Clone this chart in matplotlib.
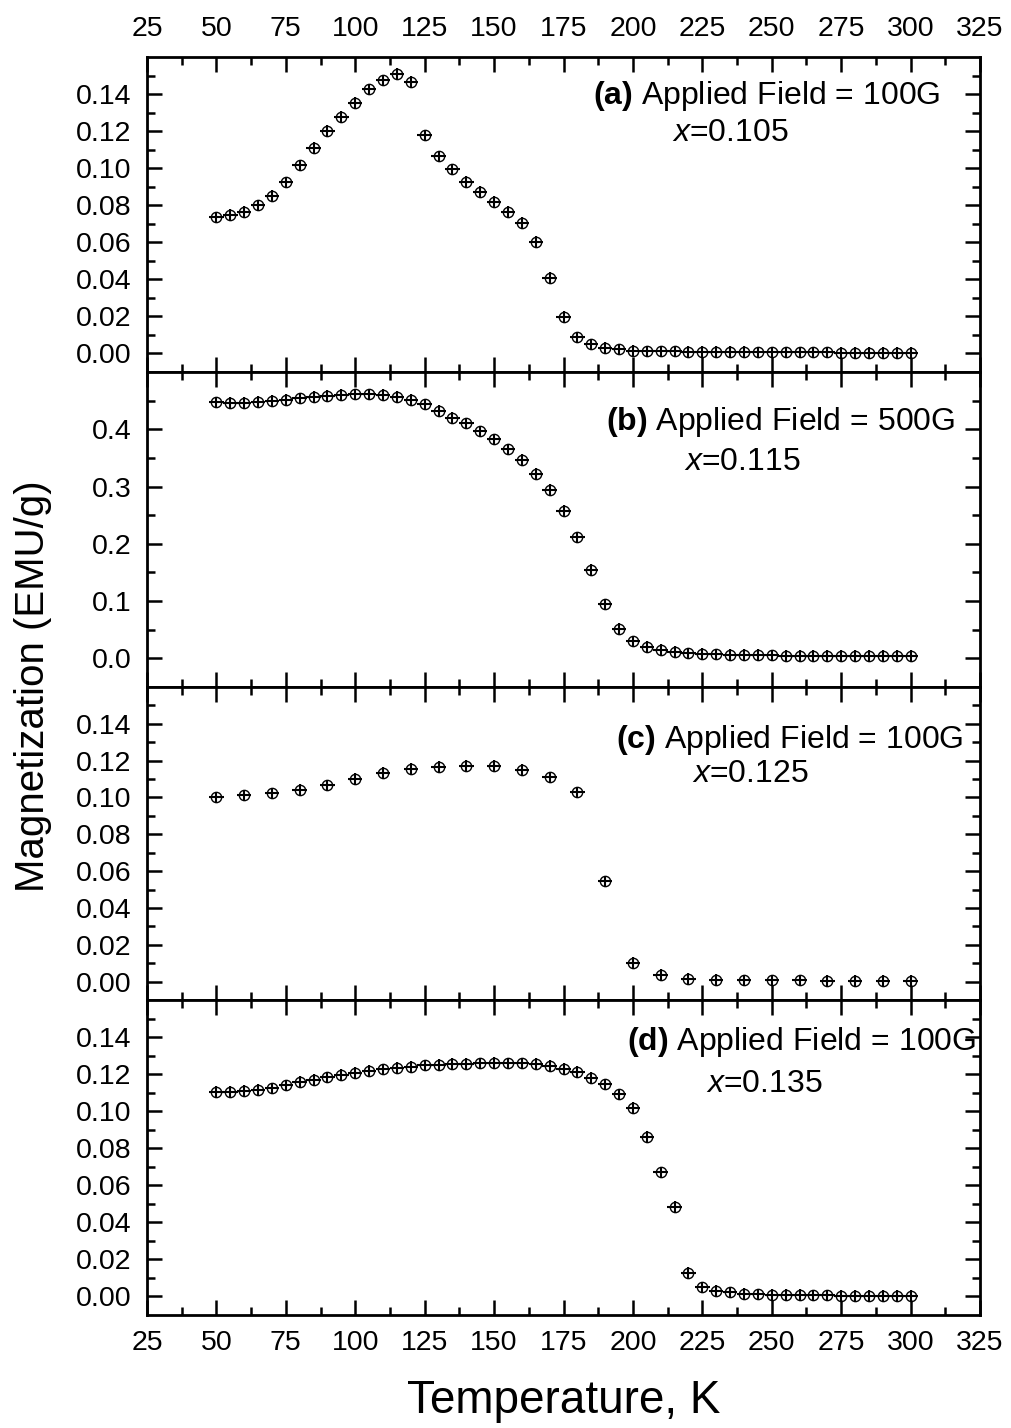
import matplotlib
matplotlib.use("Agg")
import matplotlib.pyplot as plt
from matplotlib.ticker import MultipleLocator, FixedLocator, FormatStrFormatter

plt.rcParams["font.family"] = ["Liberation Sans", "DejaVu Sans"]
plt.rcParams["mathtext.fontset"] = "custom"
plt.rcParams["mathtext.rm"] = "Liberation Sans"
plt.rcParams["mathtext.bf"] = "Liberation Sans:bold"
plt.rcParams["mathtext.it"] = "Liberation Sans:italic"

# Temperatures (K)
temp_5k = [50, 55, 60, 65, 70, 75, 80, 85, 90, 95,
           100, 105, 110, 115, 120, 125, 130, 135, 140, 145,
           150, 155, 160, 165, 170, 175, 180, 185, 190, 195,
           200, 205, 210, 215, 220, 225, 230, 235, 240, 245,
           250, 255, 260, 265, 270, 275, 280, 285, 290, 295, 300]
temp_10k = [50, 60, 70, 80, 90, 100, 110, 120, 130, 140, 150, 160, 170,
            180, 190, 200, 210, 220, 230, 240, 250, 260, 270, 280, 290, 300]

# Magnetization (EMU/g)
mag_a = [0.0734, 0.0747, 0.0766, 0.0799, 0.0851, 0.0923, 0.1016, 0.1111, 0.1201, 0.1276,
         0.1353, 0.1425, 0.1475, 0.1510, 0.1465, 0.1178, 0.1065, 0.0993, 0.0928, 0.0874,
         0.0819, 0.0765, 0.0704, 0.0603, 0.0409, 0.0199, 0.0088, 0.0050, 0.0031, 0.0023,
         0.0015, 0.0013, 0.0012, 0.0011, 0.0010, 0.0009, 0.0009, 0.0008, 0.0008, 0.0007,
         0.0007, 0.0007, 0.0006, 0.0006, 0.0006, 0.0005, 0.0005, 0.0005, 0.0005, 0.0004, 0.0004]
mag_b = [0.4468, 0.4456, 0.4456, 0.4474, 0.4491, 0.4509, 0.4538, 0.4561, 0.4585, 0.4596,
         0.4608, 0.4608, 0.4596, 0.4561, 0.4514, 0.4433, 0.4316, 0.4205, 0.4105, 0.3965,
         0.3825, 0.3649, 0.3462, 0.3222, 0.2936, 0.2573, 0.2111, 0.1544, 0.0942, 0.0515,
         0.0298, 0.0205, 0.0146, 0.0111, 0.0088, 0.0075, 0.0070, 0.0065, 0.0060, 0.0056,
         0.0053, 0.0050, 0.0048, 0.0046, 0.0045, 0.0044, 0.0043, 0.0042, 0.0041, 0.0040, 0.0040]
mag_c = [0.1002, 0.1011, 0.1023, 0.1041, 0.1067, 0.1101, 0.1133, 0.1157, 0.1166, 0.1171,
         0.1171, 0.1150, 0.1110, 0.1029, 0.0544, 0.0101, 0.0036, 0.0016, 0.0010, 0.0008,
         0.0006, 0.0006, 0.0005, 0.0005, 0.0004, 0.0004]
mag_d = [0.1106, 0.1106, 0.1109, 0.1115, 0.1124, 0.1140, 0.1158, 0.1170, 0.1183, 0.1195,
         0.1206, 0.1217, 0.1226, 0.1235, 0.1240, 0.1248, 0.1251, 0.1255, 0.1256, 0.1258,
         0.1260, 0.1258, 0.1258, 0.1255, 0.1246, 0.1229, 0.1212, 0.1181, 0.1145, 0.1092,
         0.1019, 0.0862, 0.0671, 0.0485, 0.0128, 0.0050, 0.0032, 0.0022, 0.0014, 0.0012,
         0.0010, 0.0009, 0.0008, 0.0007, 0.0006, 0.0005, 0.0005, 0.0004, 0.0004, 0.0003, 0.0003]

# Error estimates
temp_err = 2.6
mag_err = [0.003, 0.010, 0.003, 0.003]

panel_tags = ["(a)", "(b)", "(c)", "(d)"]
fields = ["100G", "500G", "100G", "100G"]
compositions = ["0.105", "0.115", "0.125", "0.135"]

x_ticks = [25, 50, 75, 100, 125, 150, 175, 200, 225, 250, 275, 300, 325]

series = [(temp_5k, mag_a), (temp_5k, mag_b), (temp_10k, mag_c), (temp_5k, mag_d)]

fig = plt.figure(figsize=(10.11, 14.28), dpi=100)
W, H = 1011.0, 1428.0
left_px, right_px = 147.0, 980.0
edges_px = [57.0, 372.0, 687.0, 1000.0, 1315.0]

# label placement in axes coordinates: (title right, title baseline, x-centre, x-baseline)
text_pos = [(0.953, 0.851, 0.700, 0.733),
            (0.970, 0.816, 0.715, 0.689),
            (0.980, 0.805, 0.724, 0.696),
            (0.995, 0.841, 0.741, 0.708)]

axes = []
for i in range(4):
    top, bot = edges_px[i], edges_px[i + 1]
    rect = [left_px / W, 1 - bot / H, (right_px - left_px) / W, (bot - top) / H]
    ax = fig.add_axes(rect, sharex=axes[0] if axes else None)
    axes.append(ax)
    T, M = series[i]
    ax.errorbar(T, M, xerr=temp_err, yerr=mag_err[i], fmt="o", ms=7.4,
                mfc="none", mec="black", mew=1.0, ecolor="black",
                elinewidth=1.5, capsize=0, zorder=3)

    ax.set_xlim(25, 325)
    ax.xaxis.set_major_locator(FixedLocator(x_ticks))
    ax.xaxis.set_minor_locator(MultipleLocator(12.5))
    if i == 1:
        ax.set_ylim(-0.05, 0.5)
        ax.yaxis.set_major_locator(FixedLocator([0.0, 0.1, 0.2, 0.3, 0.4]))
        ax.yaxis.set_minor_locator(FixedLocator([0.05, 0.15, 0.25, 0.35, 0.45]))
        ax.yaxis.set_major_formatter(FormatStrFormatter("%.1f"))
    else:
        ax.set_ylim(-0.01, 0.16)
        ax.yaxis.set_major_locator(FixedLocator([0.0, 0.02, 0.04, 0.06, 0.08, 0.10, 0.12, 0.14]))
        ax.yaxis.set_minor_locator(FixedLocator([0.01, 0.03, 0.05, 0.07, 0.09, 0.11, 0.13, 0.15]))
        ax.yaxis.set_major_formatter(FormatStrFormatter("%.2f"))

    for s in ax.spines.values():
        s.set_linewidth(2.0)
    ax.tick_params(which="both", direction="in", top=True, right=True,
                   width=1.8, labelsize=20.5, pad=11)
    ax.tick_params(which="major", length=11)
    ax.tick_params(which="minor", length=6)
    ax.tick_params(axis="x", labeltop=(i == 0), labelbottom=(i == 3))

    tr, tb, xc, xb = text_pos[i]
    ax.text(tr, tb, r"$\mathbf{" + panel_tags[i] + r"}$ Applied Field = " + fields[i],
            transform=ax.transAxes, ha="right", va="baseline", fontsize=23)
    ax.text(xc, xb, r"$\mathit{x}$=" + compositions[i],
            transform=ax.transAxes, ha="center", va="baseline", fontsize=23)

fig.text(33 / W, 1 - 686 / H, "Magnetization (EMU/g)", rotation=90,
         ha="center", va="center", fontsize=29)
fig.text(563.5 / W, 1 - 1401 / H, "Temperature, K", ha="center", va="center",
         fontsize=33)

fig.savefig("out.png", dpi=100)
